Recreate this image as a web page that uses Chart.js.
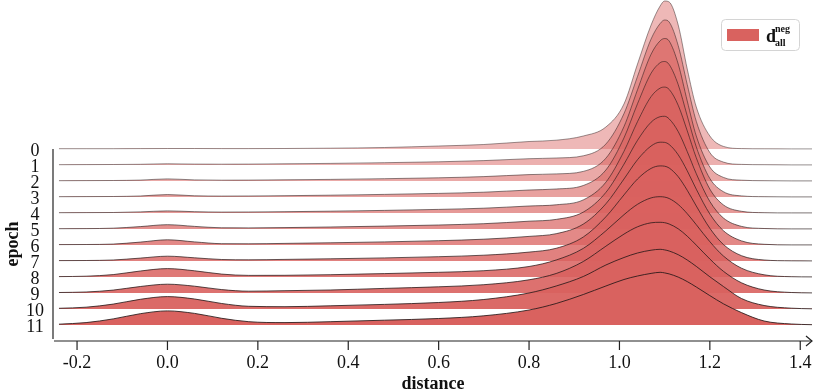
<!DOCTYPE html>
<html lang="en">
<head>
<meta charset="UTF-8">
<title>Ridgeline - distance per epoch</title>
<script src="https://cdn.jsdelivr.net/npm/chart.js"></script>
<style>
  html, body { margin: 0; padding: 0; background: #fff; }
  #wrap { position: relative; width: 814px; height: 390px; }
</style>
</head>
<body>
<div id="wrap"><canvas id="ridges" width="814" height="390"></canvas></div>
<script>
// shared distance grid (x) for every ridge
const distance = [-0.24, -0.18, -0.12, -0.06, 0, 0.06, 0.12, 0.18, 0.26, 0.36, 0.48, 0.6, 0.7, 0.8, 0.86, 0.92,
                  0.97, 1.01, 1.04, 1.07, 1.09, 1.10, 1.11, 1.13, 1.15, 1.17, 1.2, 1.23, 1.27, 1.32, 1.38, 1.426];
const epochs = [0, 1, 2, 3, 4, 5, 6, 7, 8, 9, 10, 11];
const xTicks = [-0.2, 0.0, 0.2, 0.4, 0.6, 0.8, 1.0, 1.2, 1.4];

// density of d_all^neg per epoch (arbitrary units)
const ep0  = [0.3,0.3,0.3,0.4,0.5,0.5,0.4,0.4,0.5,0.8,1.5,3.0,4.5,7.5,8.8,13,22,45,85,124,143,148,147,124,80,42,13,2.6,0.4,0.2,0.1,0.1];
const ep1  = [0.3,0.4,0.5,0.7,1.2,0.9,0.8,0.9,1.2,1.6,2.3,3.2,4.4,6.3,7.0,9.2,21,51.4,88.6,126,141.5,145,143,119.4,80.4,43.7,12.4,2.9,0.6,0.3,0.1,0.1];
const ep2  = [0.3,0.4,0.5,0.9,2.1,1.1,0.8,0.9,1.2,1.6,2.3,3.2,4.4,6.4,7.1,9.6,22.8,54.4,91.3,126.8,140.2,142.5,140,117,80,45,14,3.6,0.8,0.3,0.1,0.1];
const ep3  = [0.3,0.4,0.5,1.0,2.4,1.2,0.9,1.0,1.3,1.8,2.6,3.6,4.8,7.0,8.0,11.5,27,59.1,93.3,123.8,134.3,135.5,132.5,112.4,81.1,50.1,18.5,5.3,1.1,0.3,0.1,0.1];
const ep4  = [0.3,0.4,0.5,1.1,2.1,1.3,0.9,1.0,1.3,1.8,2.6,3.6,4.8,7.0,8.2,13.1,30.8,61.7,91.4,116.4,124.9,125.9,123.6,107.7,82.2,55.2,23.9,8.1,1.7,0.3,0.1,0.1];
const ep5  = [0.3,0.4,0.8,2.4,4.3,2.6,1.2,1.1,1.4,2.0,2.9,4.0,5.3,7.8,9.6,16.9,36.6,64.8,88.7,106.8,112.3,112.7,110.1,97.4,77.4,55.3,27.5,11,2.6,0.5,0.1,0.1];
const ep6  = [0.4,0.5,0.9,2.9,5.2,3.1,1.3,1.2,1.6,2.2,3.1,4.3,5.8,8.6,11.3,20.9,41.2,66.0,85.3,99.0,102.8,102.6,100.5,90.2,74.2,55.8,31,14.3,4.1,0.7,0.1,0.1];
const ep7  = [0.4,0.5,1.0,2.9,4.8,3.2,1.5,1.2,1.6,2.2,3.1,4.3,5.8,8.9,12.7,24.0,44.2,66.1,82.0,92.6,95.1,94.8,93,84.3,70.7,55,32.7,16.5,5.3,1.0,0.2,0.1];
const ep8  = [0.4,0.8,2.4,6.0,8.4,6.2,2.9,1.6,1.7,2.3,3.4,4.7,6.3,10.5,17.0,28.6,46.2,62.3,72.7,79.1,80.3,79.9,78.5,72.5,63.3,52.3,35.3,21,8.8,2.2,0.3,0.1];
const ep9  = [0.5,1.0,2.9,6.5,8.8,6.8,3.4,1.8,2.3,3.0,4.6,6.2,8.3,13.2,19.5,31.5,46.8,58.9,66.2,70.2,70.7,70.3,69,64.2,56.8,47.9,34,21.7,10.2,3.0,0.5,0.1];
const ep10 = [0.7,1.8,4.9,9.7,12.4,10,5.5,2.7,2.3,3.2,4.6,6.5,9.5,16,23,32.5,44,51.5,56,58.8,59.7,59.1,58,54.3,49,42.6,32.2,22.5,10.5,3.5,0.8,0.2];
const ep11 = [0.8,2.4,6.1,11.3,14.1,11.6,6.7,3.3,2.4,3.3,4.8,6.5,9.2,15,21.5,30.5,39,45.5,49,51.6,52.7,52.1,51.1,47.9,43.4,38,29.4,21.2,12.4,4.0,1.0,0.3];
const densities = [ep0, ep1, ep2, ep3, ep4, ep5, ep6, ep7, ep8, ep9, ep10, ep11];

const STEP = 16;            // vertical offset between two ridges
const SERIF = "'Liberation Serif', 'DejaVu Serif', serif";
const last = epochs.length - 1;

function baseOf(i) { return (last - i) * STEP; }

const datasets = densities.map((d, i) => {
  const a = 0.45 + 0.05 * i;
  return {
    label: 'epoch ' + epochs[i],
    data: distance.map((x, j) => ({ x: x, y: baseOf(i) + d[j] })),
    fill: { value: baseOf(i) },
    backgroundColor: 'rgba(217, 98, 95, ' + a.toFixed(2) + ')',
    borderColor: 'rgba(35, 22, 22, ' + (0.5 + 0.04 * i).toFixed(2) + ')',
    borderWidth: 0.9,
    pointRadius: 0,
    cubicInterpolationMode: 'monotone',
    order: last - i
  };
});

// axes, ticks and titles drawn from the chart scales
const axesPlugin = {
  id: 'ridgeAxes',
  afterDraw(chart) {
    const { ctx, chartArea } = chart;
    const xs = chart.scales.x, ys = chart.scales.y;
    ctx.save();
    ctx.strokeStyle = '#222';
    ctx.fillStyle = '#111';
    ctx.lineWidth = 1.2;

    // y spine
    const sx = chartArea.left - 1;
    ctx.beginPath();
    ctx.moveTo(sx, ys.getPixelForValue(baseOf(0)));
    ctx.lineTo(sx, ys.getPixelForValue(-14));
    ctx.stroke();

    // epoch labels
    ctx.font = '18px ' + SERIF;
    ctx.textAlign = 'center';
    ctx.textBaseline = 'middle';
    epochs.forEach((e, i) => {
      ctx.fillText(String(e), 35, ys.getPixelForValue(baseOf(i)) + 2);
    });

    // y title
    ctx.save();
    ctx.translate(13, (ys.getPixelForValue(baseOf(0)) + ys.getPixelForValue(-14)) / 2);
    ctx.rotate(-Math.PI / 2);
    ctx.font = 'bold 18px ' + SERIF;
    ctx.fillText('epoch', 0, 0);
    ctx.restore();

    // x axis with arrow
    const yb = chartArea.bottom;
    ctx.beginPath();
    ctx.moveTo(chartArea.left, yb);
    ctx.lineTo(chartArea.right, yb);
    ctx.stroke();
    ctx.beginPath();
    ctx.moveTo(chartArea.right - 6, yb - 5);
    ctx.lineTo(chartArea.right, yb);
    ctx.lineTo(chartArea.right - 6, yb + 5);
    ctx.stroke();

    ctx.font = '18px ' + SERIF;
    ctx.textBaseline = 'top';
    xTicks.forEach(v => {
      const px = xs.getPixelForValue(v);
      ctx.beginPath();
      ctx.moveTo(px, yb);
      ctx.lineTo(px, yb + 9);
      ctx.stroke();
      ctx.fillText(v.toFixed(1), px, yb + 13);
    });

    ctx.font = 'bold 18px ' + SERIF;
    ctx.textBaseline = 'alphabetic';
    ctx.fillText('distance', (chartArea.left + chartArea.right) / 2, 389);
    ctx.restore();
  }
};

// legend with sub/superscript label
const legendPlugin = {
  id: 'ridgeLegend',
  afterDraw(chart) {
    const ctx = chart.ctx;
    ctx.save();
    ctx.beginPath();
    ctx.roundRect(721.5, 19.5, 78, 31, 4);
    ctx.fillStyle = 'rgba(255,255,255,0.9)';
    ctx.fill();
    ctx.strokeStyle = '#d4d4d4';
    ctx.lineWidth = 1;
    ctx.stroke();
    ctx.fillStyle = 'rgb(217, 98, 95)';
    ctx.fillRect(727, 29, 32, 12);
    ctx.fillStyle = '#111';
    ctx.textAlign = 'left';
    ctx.textBaseline = 'alphabetic';
    ctx.font = 'bold 18px ' + SERIF;
    ctx.fillText('d', 766, 42);
    ctx.font = 'bold 10px ' + SERIF;
    ctx.fillText('neg', 775, 32);
    ctx.fillText('all', 775, 46);
    ctx.restore();
  }
};

new Chart(document.getElementById('ridges'), {
  type: 'line',
  data: { datasets: datasets },
  options: {
    responsive: false,
    animation: false,
    devicePixelRatio: 1,
    layout: { padding: { left: 54, right: 2, top: 0, bottom: 49 } },
    scales: {
      x: { type: 'linear', min: -0.251, max: 1.426, display: false },
      y: { type: 'linear', min: -16, max: 325, display: false }
    },
    plugins: { legend: { display: false }, tooltip: { enabled: false } }
  },
  plugins: [axesPlugin, legendPlugin]
});
</script>
</body>
</html>
